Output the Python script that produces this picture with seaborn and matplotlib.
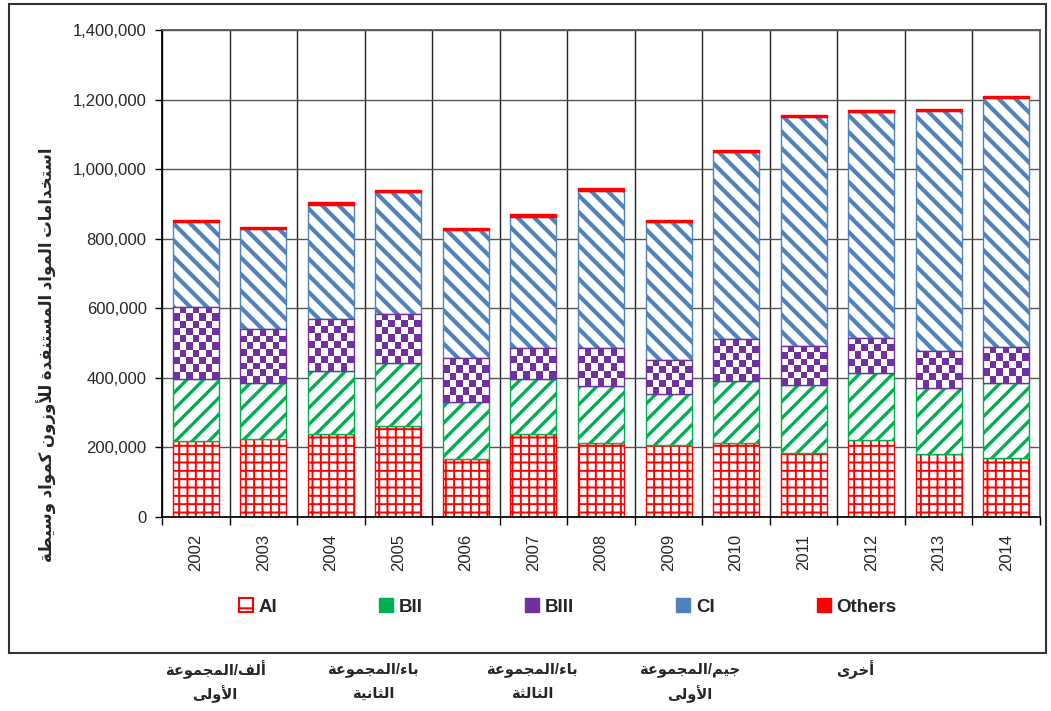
import numpy as np
import matplotlib
matplotlib.use('Agg')
import matplotlib.pyplot as plt
import matplotlib.patches as mpatches
from matplotlib.colors import ListedColormap
from matplotlib.ticker import StrMethodFormatter
import seaborn as sns

## data
years = [str(y) for y in range(2002, 2015)]
ai = [219300, 223400, 239500, 262500, 168000, 239500, 212700, 207000, 212000, 185000, 221000, 181000, 170500]
bii = [176500, 162700, 179300, 179300, 162600, 158100, 164700, 145700, 179900, 195500, 192100, 190600, 213800]
biii = [208700, 154300, 149500, 140900, 125600, 87400, 108400, 98600, 119000, 112100, 102300, 106400, 105300]
ci = [244400, 286600, 329500, 350700, 368800, 378300, 451300, 397600, 537600, 658400, 649700, 688200, 714900]
others = [5800, 5800, 7700, 6600, 6700, 6800, 7800, 5800, 6600, 5700, 4900, 6600, 5700]

series_names = ['AI', 'BII', 'BIII', 'CI', 'Others']
y_ticks = list(range(0, 1400001, 200000))

y_title = 'استخدامات المواد المستنفدة للأوزون كمواد وسيطة'
group_labels = [('ألف/المجموعة', 'الأولى'), ('باء/المجموعة', 'الثانية'), ('باء/المجموعة', 'الثالثة'),
                ('جيم/المجموعة', 'الأولى'), ('أخرى', '')]

## Arabic shaping (matplotlib has no bidi / joining of its own)
DUAL = dict(zip('بتثجحخسشصضطظعغفقكلمنهي',
                [0xFE8F, 0xFE95, 0xFE99, 0xFE9D, 0xFEA1, 0xFEA5, 0xFEB1, 0xFEB5, 0xFEB9, 0xFEBD, 0xFEC1,
                 0xFEC5, 0xFEC9, 0xFECD, 0xFED1, 0xFED5, 0xFED9, 0xFEDD, 0xFEE1, 0xFEE5, 0xFEE9, 0xFEF1]))
RIGHT = dict(zip('آأؤإاةدذرزوى',
                 [0xFE81, 0xFE83, 0xFE85, 0xFE87, 0xFE8D, 0xFE93, 0xFEA9, 0xFEAB, 0xFEAD, 0xFEAF, 0xFEED, 0xFEEF]))
LAM_ALEF = dict(zip('آأإا', [0xFEF5, 0xFEF7, 0xFEF9, 0xFEFB]))


def shape(text):
    tokens = []
    i = 0
    while i < len(text):
        ch = text[i]
        if ch == 'ل' and i + 1 < len(text) and text[i + 1] in LAM_ALEF:
            tokens.append(('R', LAM_ALEF[text[i + 1]]))
            i += 2
            continue
        if ch in DUAL:
            tokens.append(('D', DUAL[ch]))
        elif ch in RIGHT:
            tokens.append(('R', RIGHT[ch]))
        else:
            tokens.append(('N', ch))
        i += 1
    out = []
    for k, (kind, base) in enumerate(tokens):
        if kind == 'N':
            out.append(base)
            continue
        before = k > 0 and tokens[k - 1][0] == 'D'
        after = kind == 'D' and k + 1 < len(tokens) and tokens[k + 1][0] != 'N'
        out.append(chr(base + {(False, False): 0, (True, False): 1, (False, True): 2, (True, True): 3}[(before, after)]))
    return ''.join(out[::-1])


sns.set_theme(style='white')
plt.rcParams['font.family'] = ['Liberation Sans', 'DejaVu Sans']

fig = plt.figure(figsize=(10.51, 7.11), dpi=100)
ax = fig.add_axes([162 / 1051, 1 - 517 / 711, 878 / 1051, 487 / 711])

styles = {'AI': ('#FF0000', 'white', '++', 1.4),
          'BII': ('#00B050', 'white', '//', 2.4),
          'BIII': ('#7030A0', 'white', None, 1.0),
          'CI': ('#4F81BD', 'white', '\\\\', 3.0),
          'Others': ('#FF0000', '#FF0000', None, 1.0)}

bottom = np.zeros(len(years))
containers = {}
for name, vals in zip(series_names, [ai, bii, biii, ci, others]):
    edge, face, hatch, hlw = styles[name]
    plt.rcParams['hatch.linewidth'] = hlw
    sns.barplot(x=years, y=vals, bottom=bottom.copy(), width=0.68, errorbar=None, ax=ax, color=edge,
                saturation=1, facecolor=face, edgecolor=edge, hatch=hatch, linewidth=1)
    containers[name] = ax.containers[-1]
    for p in containers[name]:
        if hasattr(p, 'set_hatch_linewidth'):
            p.set_hatch_linewidth(hlw)
    bottom += np.array(vals)

ax.set_ylim(0, 1400000)
ax.set_xlim(-0.5, len(years) - 0.5)

# checkerboard for BIII (no such hatch in matplotlib)
checker = ListedColormap(['white', '#7030A0'])
for p in containers['BIII']:
    x0, y0 = p.get_x(), p.get_y()
    x1, y1 = x0 + p.get_width(), y0 + p.get_height()
    (px0, py0), (px1, py1) = ax.transData.transform([(x0, y0), (x1, y1)])
    ncol = max(1, int(round((px1 - px0) / 7)))
    nrow = max(1, int(round((py1 - py0) / 7)))
    board = np.indices((nrow, ncol)).sum(axis=0) % 2
    im = ax.imshow(board, cmap=checker, extent=(x0, x1, y0, y1), origin='upper',
                   aspect='auto', interpolation='nearest', zorder=1.5)
    im.set_clip_path(p)
    p.set_facecolor('none')
    p.set_zorder(2)

ax.set_ylim(0, 1400000)
ax.set_xlim(-0.5, len(years) - 0.5)

# grid / ticks
ax.set_axisbelow(True)
ax.yaxis.grid(True, color='#555555', lw=1)
ax.set_xticks(np.arange(-0.5, len(years)), minor=True)
ax.xaxis.grid(True, which='minor', color='#222222', lw=1)
ax.xaxis.grid(False, which='major')
ax.set_yticks(y_ticks)
ax.yaxis.set_major_formatter(StrMethodFormatter('{x:,.0f}'))
ax.tick_params(axis='y', which='major', left=True, length=5, width=1, color='black', pad=6, labelsize=12)
ax.tick_params(axis='x', which='major', bottom=False, length=0, pad=12, labelsize=12, labelrotation=90)
ax.tick_params(axis='x', which='minor', bottom=True, length=6, width=1, color='black')
for s in ['top', 'right']:
    ax.spines[s].set_color('#555555')
for s in ['left', 'bottom']:
    ax.spines[s].set_color('black')
ax.set_xlabel('')
ax.set_ylabel('')
if ax.get_legend() is not None:
    ax.get_legend().remove()

# legend
handles = [mpatches.Patch(facecolor='white', edgecolor='#FF0000', hatch='-', lw=1.5),
           mpatches.Patch(color='#00B050'), mpatches.Patch(color='#7030A0'),
           mpatches.Patch(color='#4F81BD'), mpatches.Patch(color='#FF0000')]
plt.rcParams['hatch.linewidth'] = 1.5
fig.legend(handles, series_names, loc='center', bbox_to_anchor=(0.540, 0.146), ncol=5, frameon=False,
           prop=dict(weight='bold', size=13.5), handlelength=0.75, handleheight=0.75, handletextpad=0.3,
           columnspacing=5.45)

# axis title and the arabic group names below the frame
fig.text(47 / 1051, 1 - 355 / 711, shape(y_title), rotation=90, ha='center', va='center',
         fontsize=12, fontweight='bold')
centers = [215, 373, 532, 690, 855]
for cx, (l1, l2) in zip(centers, group_labels):
    fig.text(cx / 1051, 1 - 670 / 711, shape(l1), ha='center', va='center', fontsize=10.5, fontweight='bold')
    if l2:
        fig.text(cx / 1051, 1 - 694 / 711, shape(l2), ha='center', va='center', fontsize=10.5, fontweight='bold')

fig.add_artist(mpatches.Rectangle((9 / 1051, 1 - 653 / 711), 1037 / 1051, 649 / 711, transform=fig.transFigure,
                                  fill=False, edgecolor='#333333', lw=1.5))

fig.savefig('out.png', dpi=100)
